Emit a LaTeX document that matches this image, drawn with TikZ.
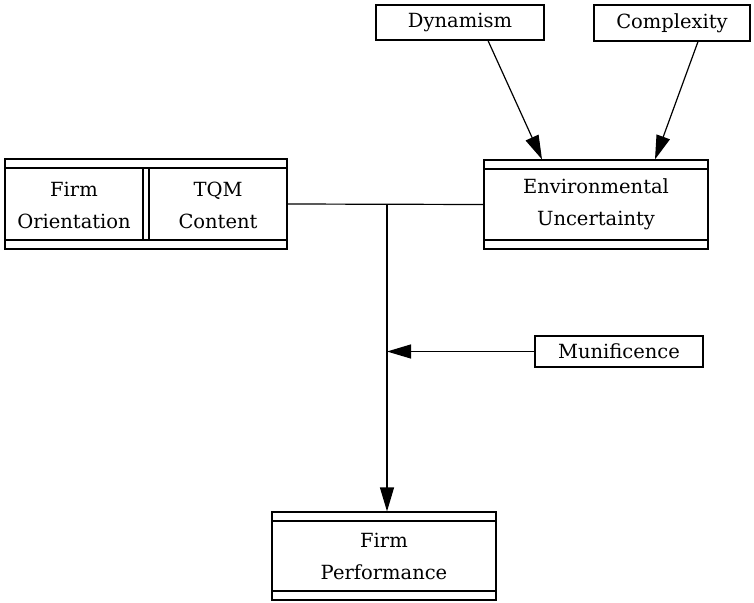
\documentclass[tikz,border=0pt]{standalone}
\usepackage{fontspec}
\setmainfont{DejaVu Serif}
\usetikzlibrary{arrows.meta, positioning}

\begin{document}
\begin{tikzpicture}[
	x=1pt, y=-1pt,
	every node/.style={font=\fontsize{19.5}{32}\selectfont, align=center},
	box/.style={rectangle, draw, line width=1.2pt, inner sep=0pt},
	block/.style={box, path picture={
			\draw[line width=1.2pt] ([yshift=-9pt]path picture bounding box.north west) -- ([yshift=-9pt]path picture bounding box.north east);
			\draw[line width=1.2pt] ([yshift=9pt]path picture bounding box.south west) -- ([yshift=9pt]path picture bounding box.south east);}},
	line/.style={draw, line width=1.2pt, -{Triangle[length=24pt, width=14pt]}},
	]
	\useasboundingbox (0,0) rectangle (754,602);
	
	\node [block, minimum width=282pt, minimum height=90pt] (firm) at (146,204) {};
	\node (orient) at (74,205) {Firm\\Orientation};
	\node (tqm) at (218,205) {TQM\\Content};
	\draw [line width=1.2pt] ([xshift=-3pt]firm.north |- 0,169) -- ([xshift=-3pt]firm.north |- 0,239);
	\draw [line width=1.2pt] ([xshift=3pt]firm.north |- 0,169) -- ([xshift=3pt]firm.north |- 0,239);
	
	\node [block, minimum width=224pt, minimum height=89pt] (env) at (596,204.5) {Environmental\\Uncertainty};
	\node [box, minimum width=168pt, minimum height=35pt] (dyn) at (460,22.5) {Dynamism};
	\node [box, minimum width=156pt, minimum height=36pt] (comp) at (672,23) {Complexity};
	\node [box, minimum width=168pt, minimum height=31pt] (muni) at (619,351.5) {Munificence};
	\node [block, minimum width=224pt, minimum height=88pt] (perf) at (384,556) {Firm\\Performance};
	
	\coordinate (j) at (387,204);
	\draw [line width=1.2pt] (firm.east) -- (env.west);
	\path [line] (j) -- (j |- perf.north);
	\path [line] (muni.west) -- (muni.west -| j);
	\path [line] (dyn.south -| 488,0) -- (env.north -| 542,0);
	\path [line] (comp.south -| 698,0) -- (env.north -| 655,0);
\end{tikzpicture}
\end{document}
